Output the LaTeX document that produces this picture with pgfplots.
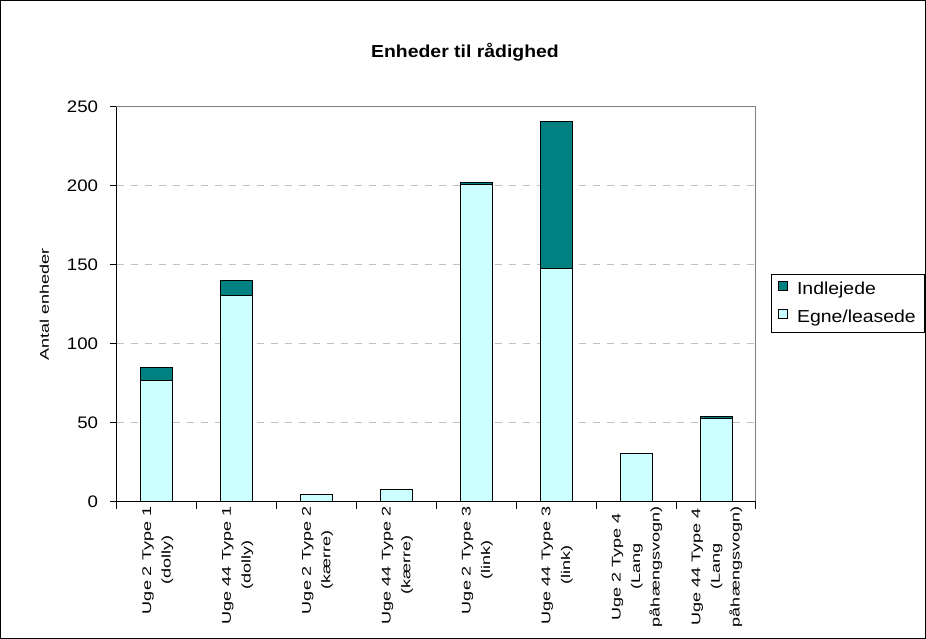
\documentclass[border=0pt]{standalone}
\usepackage{pgfplots}
\pgfplotsset{compat=1.18}
\usepackage{fontspec}
\setmainfont[FakeStretch=1.12]{Liberation Sans}
\newfontfamily\rotfont{Liberation Sans}
\usepackage{graphicx}
\definecolor{tealbar}{RGB}{0,128,128}
\definecolor{cyanbar}{RGB}{204,255,255}
\definecolor{gridgray}{RGB}{192,192,192}
\definecolor{framegray}{RGB}{128,128,128}
\newcommand{\rl}[1]{\scalebox{1}[0.7]{\fontsize{13.5}{21}\selectfont\rotfont\begin{tabular}{@{}c@{}}#1\end{tabular}}}
\begin{document}
\begin{tikzpicture}
\useasboundingbox (-87.75pt,-102.75pt) rectangle (606.75pt,376.5pt);
\draw[line width=1pt] (-87.25pt,-102.25pt) rectangle (606.25pt,376pt);
\begin{axis}[
  at={(0,0)}, anchor=south west,
  scale only axis, width=479.25pt, height=296.25pt,
  ybar stacked, bar width=0.4,
  xmin=-0.5, xmax=7.5, ymin=0, ymax=250,
  ytick={0,50,...,250},
  xtick={-0.5,0.5,...,7.5},
  x tick label as interval,
  xticklabels={
    {\rl{Uge 2 Type 1\\(dolly)}},
    {\rl{Uge 44 Type 1\\(dolly)}},
    {\rl{Uge 2 Type 2\\(kærre)}},
    {\rl{Uge 44 Type 2\\(kærre)}},
    {\rl{Uge 2 Type 3\\(link)}},
    {\rl{Uge 44 Type 3\\(link)}},
    {\rl{Uge 2 Type 4\\(Lang\\påhængsvogn)}},
    {\rl{Uge 44 Type 4\\(Lang\\påhængsvogn)}}
  },
  xticklabel style={rotate=90, anchor=east, inner sep=0pt, xshift=1.5pt},
  yticklabel style={font=\fontsize{12.5}{14}\selectfont, inner sep=0pt, xshift=-9pt},
  /pgf/number format/assume math mode=true,
  tick align=outside, tick pos=left,
  major tick length=5pt,
  tick style={black, line width=0.75pt},
  ymajorgrids,
  major grid style={gridgray, line width=0.75pt, dash pattern=on 5pt off 5.5pt},
  axis line style={framegray, line width=0.75pt},
  legend style={at={(1.0235,0.5025)}, anchor=west, draw=black, line width=0.75pt,
    font=\fontsize{13}{15}\selectfont, row sep=6pt, inner xsep=4.5pt, inner ysep=4pt},
  legend cell align=left,
  reverse legend,
  legend image code/.code={\draw[#1, line width=0.6pt] (0pt,-1pt) rectangle (7pt,6pt); \path (12pt,0pt);},
  after end axis/.code={\draw[black, line width=0.75pt] (rel axis cs:0,1) -- (rel axis cs:0,0) -- (rel axis cs:1,0);},
]
\addplot[fill=cyanbar, draw=black, line width=0.75pt] coordinates {(0,77) (1,131) (2,5) (3,8) (4,201) (5,148) (6,31) (7,53)};
\addlegendentry{Egne/leasede}
\addplot[fill=tealbar, draw=black, line width=0.75pt] coordinates {(0,8) (1,9) (2,0) (3,0) (4,1) (5,93) (6,0) (7,1)};
\addlegendentry{Indlejede}
\end{axis}
\node[font=\bfseries\fontsize{13}{15}\selectfont] at (261pt,337.5pt) {Enheder til rådighed};
\node[rotate=90] at (-54pt,148.1pt) {\rl{Antal enheder}};
\end{tikzpicture}
\end{document}
